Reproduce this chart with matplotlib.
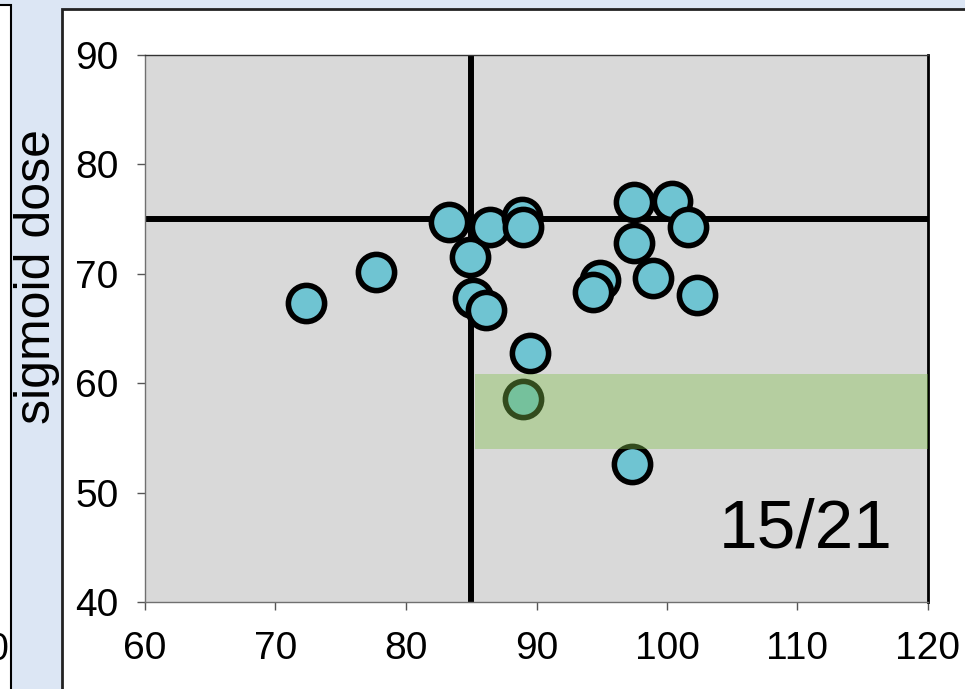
import matplotlib
matplotlib.use('Agg')
import matplotlib.pyplot as plt
from matplotlib.patches import Rectangle

plt.rcParams['font.family'] = ['Liberation Sans', 'DejaVu Sans']

# data
volume = [72.3, 77.7, 83.3, 84.9, 86.4, 88.9, 89.0, 85.1, 86.1, 89.5,
          94.9, 94.3, 97.5, 100.4, 101.6, 97.5, 98.9, 102.3, 89.0, 97.3]
sigmoid_dose = [67.3, 70.2, 74.7, 71.5, 74.3, 75.2, 74.3, 67.8, 66.7, 62.8,
                69.4, 68.3, 76.6, 76.7, 74.3, 72.8, 69.6, 68.1, 58.6, 52.6]
x_cut = 85
y_cut = 75
band_low, band_high = 54.0, 60.8
band_start = 85.3
x_ticks = [60, 70, 80, 90, 100, 110, 120]
y_ticks = [40, 50, 60, 70, 80, 90]
ratio_text = '15/21'

W, H = 965, 689
fig = plt.figure(figsize=(W / 100, H / 100), dpi=100, facecolor='#dce6f4')

# neighbouring panel cut off on the left
fig.patches.append(Rectangle((-0.05, -0.05), 0.05 + 11 / W, 1.05 - 5 / H,
                             transform=fig.transFigure, facecolor='white',
                             edgecolor='black', linewidth=1.5, zorder=0))
fig.text(8 / W, 1 - 650 / H, '0', ha='right', va='center', fontsize=27)

# white chart panel
fig.patches.append(Rectangle((62 / W, -0.05), 1.1, 1.05 - 9 / H,
                             transform=fig.transFigure, facecolor='white',
                             edgecolor='#222222', linewidth=2, zorder=0))

ax = fig.add_axes([145 / W, 1 - 602 / H, (928 - 145) / W, (602 - 55) / H])
ax.set_zorder(2)
ax.set_facecolor('#d9d9d9')

# threshold lines
ax.plot([x_cut, x_cut], [40, 90], color='black', linewidth=4.3, zorder=2,
        solid_capstyle='butt')
ax.plot([60, 120], [y_cut, y_cut], color='black', linewidth=4.3, zorder=2,
        solid_capstyle='butt')

ax.scatter(volume, sigmoid_dose, s=680, color='#6fc4d2', edgecolor='black',
           linewidth=4.0, zorder=3, clip_on=False)

# green band drawn over the points
ax.axhspan(band_low, band_high, xmin=(band_start - 60) / 60, xmax=1,
           facecolor='#7fbe4b', alpha=0.4, edgecolor='none', zorder=4)

ax.text(110.65, 46.6, ratio_text, ha='center', va='center', fontsize=50)

ax.set_xlim(60, 120)
ax.set_ylim(40, 90)
ax.set_xticks(x_ticks)
ax.set_yticks(y_ticks)
ax.tick_params(axis='both', direction='out', length=6, width=1, color='#555555',
               labelsize=28, labelcolor='black')
ax.tick_params(axis='y', pad=13)
ax.tick_params(axis='x', pad=15)

for side in ['left', 'bottom']:
    ax.spines[side].set_color('#707070')
    ax.spines[side].set_linewidth(1)
ax.spines['top'].set_color('#333333')
ax.spines['top'].set_linewidth(1)
ax.spines['right'].set_color('black')
ax.spines['right'].set_linewidth(2)

fig.text(37 / W, 1 - 277 / H, 'sigmoid dose', rotation=90, ha='center',
         va='center', fontsize=36, zorder=3)

fig.savefig('out.png', dpi=100, facecolor=fig.get_facecolor())
